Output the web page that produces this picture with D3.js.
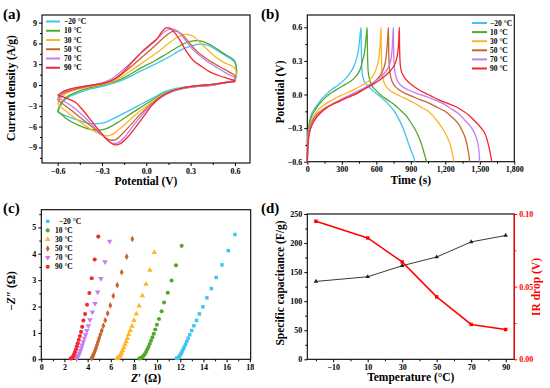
<!DOCTYPE html>
<html><head><meta charset="utf-8">
<script src="https://cdn.jsdelivr.net/npm/d3@7"></script>
<style>
body{margin:0;background:#fff}
svg{display:block}
text{font-family:"Liberation Serif","Times New Roman",serif;font-weight:bold}
</style>
</head><body>
<svg id="chart" width="550" height="388"></svg>
<script>
// ---------- shared ----------
const tempLabels = ["\u221220 \u00B0C","10 \u00B0C","30 \u00B0C","50 \u00B0C","70 \u00B0C","90 \u00B0C"];
const seriesColors = ["#3ec3f3","#52a82c","#fdb525","#c9642a","#c47cf0","#f3282d"];

// ---------- (a) CV loops [V, current density A/g] ----------
const cvM20 = [[-0.6,-3.9],[-0.57,-2.6],[-0.53,-1.8],[-0.48,-1.3],[-0.4,-0.7],[-0.3,-0.2],[-0.2,0.4],[-0.12,1.1],[-0.05,1.9],[0.05,2.9],[0.15,4.0],[0.22,4.9],[0.3,5.6],[0.36,5.9],[0.42,5.7],[0.48,5.0],[0.54,4.2],[0.6,3.2],
  [0.6,0.7],[0.52,0.3],[0.4,0.0],[0.3,-0.2],[0.2,-0.5],[0.12,-1.0],[0.05,-1.8],[-0.03,-2.7],[-0.1,-3.5],[-0.2,-4.6],[-0.28,-5.4],[-0.34,-5.6],[-0.4,-5.5],[-0.47,-5.0],[-0.54,-4.5],[-0.6,-3.9]];
const cv10 = [[-0.6,-3.7],[-0.57,-2.4],[-0.53,-1.6],[-0.47,-1.0],[-0.4,-0.5],[-0.3,0.0],[-0.2,0.6],[-0.12,1.4],[-0.05,2.3],[0.05,3.4],[0.13,4.4],[0.2,5.3],[0.27,6.1],[0.33,6.4],[0.38,6.3],[0.45,5.6],[0.52,4.6],[0.6,3.4],
  [0.6,0.9],[0.55,0.4],[0.45,0.1],[0.35,-0.1],[0.25,-0.4],[0.17,-0.8],[0.1,-1.4],[0.03,-2.3],[-0.05,-3.4],[-0.13,-4.5],[-0.2,-5.5],[-0.27,-6.3],[-0.32,-6.5],[-0.38,-6.4],[-0.45,-5.9],[-0.53,-5.0],[-0.6,-3.7]];
const cv30 = [[-0.6,-2.8],[-0.58,-1.9],[-0.54,-1.2],[-0.48,-0.7],[-0.4,-0.3],[-0.3,0.1],[-0.22,0.6],[-0.15,1.4],[-0.08,2.4],[0.0,3.6],[0.08,4.8],[0.15,6.0],[0.22,7.0],[0.27,7.3],[0.32,7.0],[0.38,5.8],[0.45,4.4],[0.52,3.3],[0.6,2.4],
  [0.6,0.8],[0.55,0.4],[0.45,0.0],[0.35,-0.2],[0.25,-0.5],[0.17,-0.9],[0.1,-1.6],[0.03,-2.6],[-0.05,-3.9],[-0.12,-5.2],[-0.19,-6.5],[-0.25,-7.3],[-0.3,-7.2],[-0.36,-6.6],[-0.43,-5.6],[-0.5,-4.5],[-0.56,-3.5],[-0.6,-2.8]];
const cv50 = [[-0.6,-2.2],[-0.58,-1.5],[-0.54,-1.0],[-0.48,-0.6],[-0.4,-0.2],[-0.3,0.2],[-0.23,0.7],[-0.17,1.5],[-0.1,2.7],[-0.03,4.0],[0.04,5.3],[0.1,6.5],[0.15,7.4],[0.19,7.8],[0.23,7.5],[0.28,6.4],[0.34,4.9],[0.42,3.6],[0.5,2.6],[0.56,1.9],[0.6,1.3],
  [0.6,0.7],[0.55,0.4],[0.45,0.0],[0.35,-0.2],[0.25,-0.5],[0.17,-1.0],[0.1,-1.7],[0.03,-2.8],[-0.04,-4.2],[-0.1,-5.6],[-0.16,-7.0],[-0.21,-7.9],[-0.25,-7.9],[-0.3,-7.2],[-0.37,-6.0],[-0.44,-4.8],[-0.51,-3.6],[-0.56,-2.8],[-0.6,-2.2]];
const cv70 = [[-0.6,-1.9],[-0.58,-1.3],[-0.54,-0.8],[-0.48,-0.4],[-0.4,-0.1],[-0.32,0.2],[-0.25,0.7],[-0.19,1.6],[-0.12,2.9],[-0.05,4.3],[0.02,5.6],[0.08,6.8],[0.13,7.8],[0.17,8.1],[0.21,7.8],[0.26,6.6],[0.32,5.0],[0.4,3.6],[0.48,2.5],[0.55,1.6],[0.6,1.0],
  [0.6,0.6],[0.55,0.4],[0.45,0.0],[0.35,-0.2],[0.25,-0.5],[0.17,-1.0],[0.1,-1.8],[0.03,-3.0],[-0.04,-4.6],[-0.1,-6.2],[-0.15,-7.6],[-0.2,-8.4],[-0.24,-8.3],[-0.29,-7.4],[-0.36,-5.9],[-0.43,-4.4],[-0.5,-3.1],[-0.56,-2.3],[-0.6,-1.9]];
const cv90 = [[-0.6,-1.5],[-0.57,-1.0],[-0.52,-0.6],[-0.45,-0.3],[-0.36,0.0],[-0.28,0.3],[-0.22,0.8],[-0.17,1.6],[-0.12,2.7],[-0.07,3.9],[-0.02,5.0],[0.03,5.9],[0.07,6.6],[0.1,7.5],[0.13,8.2],[0.16,8.2],[0.19,7.6],[0.23,6.4],[0.27,4.9],[0.32,3.5],[0.38,2.6],[0.43,1.9],[0.5,1.3],[0.56,0.9],[0.6,0.6],
  [0.6,0.5],[0.55,0.4],[0.45,0.1],[0.35,-0.1],[0.25,-0.4],[0.17,-0.9],[0.1,-1.7],[0.04,-2.9],[-0.02,-4.6],[-0.08,-6.3],[-0.13,-7.6],[-0.18,-8.5],[-0.22,-8.6],[-0.26,-8.0],[-0.31,-6.8],[-0.37,-5.2],[-0.43,-3.6],[-0.48,-2.5],[-0.54,-1.9],[-0.6,-1.5]];
const cvTicksX = [-0.6,-0.3,0.0,0.3,0.6];
const cvTicksY = [-9,-6,-3,0,3,6,9];

// ---------- (b) GCD curves [time s, potential V] ----------
const gcdM20 = [[0,-0.6],[2,-0.48],[5,-0.38],[9,-0.32],[20,-0.24],[38,-0.17],[67,-0.12],[96,-0.08],[125,-0.04],[154,-0.01],[212,0.045],[270,0.085],[328,0.137],[370,0.19],[400,0.24],[429,0.32],[445,0.4],[456,0.5],[467,0.6],
  [469,0.45],[472,0.3],[476,0.2],[485,0.15],[502,0.105],[530,0.075],[560,0.045],[600,0.01],[647,-0.03],[690,-0.07],[734,-0.12],[770,-0.17],[806,-0.24],[836,-0.31],[864,-0.39],[888,-0.46],[907,-0.51],[922,-0.55],[935,-0.6]];
const gcd10 = [[0,-0.6],[2,-0.49],[5,-0.39],[9,-0.33],[20,-0.25],[40,-0.19],[67,-0.14],[100,-0.09],[154,-0.03],[210,0.015],[270,0.054],[330,0.09],[386,0.125],[430,0.17],[458,0.22],[480,0.3],[496,0.37],[508,0.47],[520,0.6],
  [522,0.45],[525,0.3],[530,0.2],[540,0.14],[560,0.08],[600,0.035],[647,-0.01],[700,-0.05],[755,-0.09],[810,-0.14],[860,-0.19],[900,-0.25],[937,-0.31],[966,-0.37],[995,-0.45],[1015,-0.52],[1038,-0.6]];
const gcd30 = [[0,-0.6],[2,-0.5],[5,-0.41],[10,-0.35],[20,-0.28],[38,-0.23],[70,-0.17],[125,-0.11],[180,-0.07],[241,-0.035],[300,-0.005],[357,0.02],[420,0.05],[473,0.08],[520,0.11],[560,0.15],[585,0.19],[603,0.24],[618,0.3],[630,0.4],[636,0.5],[641,0.6],
  [643,0.45],[646,0.3],[650,0.2],[660,0.13],[680,0.08],[704,0.05],[760,0.01],[820,-0.02],[880,-0.05],[937,-0.08],[1000,-0.12],[1053,-0.15],[1100,-0.2],[1139,-0.25],[1180,-0.31],[1212,-0.37],[1240,-0.44],[1258,-0.51],[1276,-0.6]];
const gcd50 = [[0,-0.6],[2,-0.52],[5,-0.43],[10,-0.37],[20,-0.3],[38,-0.25],[80,-0.18],[154,-0.12],[210,-0.09],[270,-0.06],[340,-0.03],[415,0.0],[480,0.04],[531,0.075],[580,0.11],[618,0.15],[645,0.19],[667,0.24],[682,0.31],[692,0.4],[699,0.5],[705,0.6],
  [707,0.45],[710,0.32],[715,0.22],[725,0.16],[740,0.11],[765,0.07],[800,0.04],[850,0.01],[908,-0.015],[980,-0.045],[1053,-0.075],[1120,-0.11],[1197,-0.15],[1256,-0.2],[1313,-0.26],[1350,-0.33],[1375,-0.39],[1393,-0.47],[1405,-0.54],[1412,-0.6]];
const gcd70 = [[0,-0.6],[2,-0.53],[5,-0.44],[10,-0.38],[20,-0.32],[40,-0.26],[80,-0.2],[154,-0.13],[241,-0.07],[320,-0.03],[400,0.01],[480,0.05],[560,0.1],[620,0.14],[670,0.19],[705,0.24],[725,0.3],[737,0.4],[743,0.5],[748,0.6],
  [750,0.45],[753,0.32],[758,0.23],[768,0.17],[785,0.12],[820,0.075],[879,0.04],[950,0.01],[1024,-0.015],[1100,-0.045],[1169,-0.075],[1255,-0.13],[1314,-0.17],[1371,-0.23],[1430,-0.3],[1460,-0.36],[1480,-0.42],[1492,-0.5],[1499,-0.6]];
const gcd90 = [[0,-0.6],[2,-0.54],[5,-0.46],[10,-0.4],[20,-0.34],[38,-0.28],[70,-0.22],[110,-0.17],[180,-0.11],[260,-0.07],[340,-0.03],[430,0.01],[500,0.05],[570,0.09],[630,0.13],[680,0.17],[720,0.21],[750,0.25],[772,0.3],[786,0.37],[794,0.46],[800,0.6],
  [802,0.45],[805,0.33],[810,0.25],[820,0.2],[840,0.16],[870,0.12],[910,0.085],[966,0.045],[1050,0.0],[1140,-0.045],[1210,-0.075],[1284,-0.105],[1350,-0.145],[1400,-0.18],[1450,-0.23],[1487,-0.27],[1520,-0.31],[1545,-0.35],[1562,-0.4],[1575,-0.45],[1588,-0.51],[1597,-0.56],[1604,-0.6]];
const gcdTicksX = [0,300,600,900,1200,1500,1800];
const gcdTicksY = [-0.6,-0.3,0.0,0.3,0.6];

// ---------- (c) Nyquist points [Z' ohm, -Z'' ohm] ----------
const eisM20 = [[16.72,4.73],[16.15,4.12],[15.6,3.58],[15.1,3.1],[14.68,2.68],[14.3,2.33],[13.95,1.99],[13.65,1.72],[13.4,1.47],[13.17,1.27],[12.98,1.09],[12.82,0.93],[12.68,0.8],[12.56,0.68],[12.45,0.57],[12.35,0.47],[12.25,0.38],[12.16,0.3],[12.08,0.23],[12.0,0.17],[11.93,0.12],[11.86,0.08],[11.8,0.05],[11.74,0.04],[11.68,0.04]];
const eis10 = [[12.12,4.3],[11.63,3.56],[11.25,2.99],[10.92,2.52],[10.6,2.15],[10.39,1.82],[10.16,1.53],[9.98,1.31],[9.84,1.13],[9.71,0.97],[9.59,0.83],[9.47,0.7],[9.36,0.58],[9.25,0.47],[9.14,0.37],[9.04,0.28],[8.94,0.2],[8.84,0.14],[8.74,0.09],[8.64,0.06],[8.55,0.04],[8.46,0.03]];
const eis30 = [[9.76,4.05],[9.38,3.38],[9.04,2.85],[8.72,2.41],[8.44,2.02],[8.2,1.72],[8.0,1.47],[7.83,1.26],[7.68,1.09],[7.55,0.94],[7.44,0.8],[7.33,0.67],[7.22,0.55],[7.12,0.44],[7.02,0.34],[6.93,0.25],[6.84,0.17],[6.75,0.11],[6.67,0.07],[6.6,0.04],[6.53,0.03]];
const eis50 = [[7.86,4.56],[7.37,3.89],[6.94,3.3],[6.56,2.81],[6.22,2.4],[5.96,2.04],[5.73,1.74],[5.52,1.48],[5.36,1.27],[5.22,1.09],[5.1,0.94],[5.0,0.8],[4.9,0.67],[4.81,0.55],[4.73,0.44],[4.65,0.34],[4.57,0.25],[4.5,0.17],[4.44,0.11],[4.38,0.07],[4.33,0.04]];
const eis70 = [[5.9,4.47],[5.5,3.69],[5.15,3.06],[4.87,2.55],[4.64,2.11],[4.41,1.79],[4.2,1.5],[4.06,1.27],[3.93,1.09],[3.82,0.93],[3.72,0.79],[3.62,0.66],[3.53,0.54],[3.45,0.43],[3.37,0.33],[3.29,0.24],[3.22,0.16],[3.15,0.1],[3.09,0.06],[3.03,0.04]];
const eis90 = [[4.92,4.65],[4.61,3.78],[4.35,3.07],[4.15,2.51],[3.95,2.07],[3.78,1.72],[3.63,1.47],[3.53,1.23],[3.43,1.04],[3.33,0.88],[3.24,0.74],[3.15,0.61],[3.07,0.49],[2.99,0.38],[2.91,0.28],[2.83,0.19],[2.76,0.12],[2.68,0.07],[2.61,0.04],[2.55,0.03]];
const eisTicksX = [0,2,4,6,8,10,12,14,16,18];
const eisTicksY = [0,1,2,3,4,5];

// ---------- (d) capacitance and IR drop ----------
const temperatures = [-20,10,30,50,70,90];
const capacitance = [134,142,161,176,202,213];
const irDrop = [0.095,0.0835,0.067,0.043,0.024,0.0205];
const tempTicks = [-10,10,30,50,70,90];
const capTicks = [0,50,100,150,200,250];
const irTicks = [0.00,0.05,0.10];

// ====================================================
const svg = d3.select("#chart");
const FS_TICK = 8, FS_TITLE = 11.5, FS_LEG = 7.5;

function midpoints(t){ const r=[]; for(let i=0;i<t.length-1;i++) r.push((t[i]+t[i+1])/2); return r; }

function styleAxis(g, color){
  g.select(".domain").remove();
  g.selectAll("line").attr("stroke", color||"#000").attr("stroke-width",1);
  g.selectAll("text").attr("font-size",FS_TICK).attr("font-family","Liberation Serif, serif")
   .attr("font-weight","bold").attr("fill", color||"#000");
}

function panel(o){
  const x = d3.scaleLinear().domain(o.xd).range([o.left,o.right]);
  const y = d3.scaleLinear().domain(o.yd).range([o.bottom,o.top]);
  const g = svg.append("g");
  const xa = g.append("g").attr("transform",`translate(0,${o.bottom})`)
    .call(d3.axisBottom(x).tickValues(o.xt).tickFormat(o.xf).tickSize(3).tickPadding(2));
  styleAxis(xa);
  const xm = g.append("g").attr("transform",`translate(0,${o.bottom})`)
    .call(d3.axisBottom(x).tickValues(o.xminor).tickFormat("").tickSize(2));
  styleAxis(xm);
  const ya = g.append("g").attr("transform",`translate(${o.left},0)`)
    .call(d3.axisLeft(y).tickValues(o.yt).tickFormat(o.yf).tickSize(3).tickPadding(2));
  styleAxis(ya);
  const ym = g.append("g").attr("transform",`translate(${o.left},0)`)
    .call(d3.axisLeft(y).tickValues(o.yminor).tickFormat("").tickSize(2));
  styleAxis(ym);
  g.append("rect").attr("x",o.left).attr("y",o.top).attr("width",o.right-o.left).attr("height",o.bottom-o.top)
    .attr("fill","none").attr("stroke","#000").attr("stroke-width",1.1);
  // titles
  g.append("text").attr("x",(o.left+o.right)/2).attr("y",o.bottom+22).attr("text-anchor","middle")
    .attr("font-size",FS_TITLE).text(o.xlabel);
  if(o.ylabel){
    g.append("text").attr("transform",`translate(${o.ylx},${o.lyc}) rotate(-90)`).attr("text-anchor","middle")
      .attr("font-size",FS_TITLE).text(o.ylabel);
  }
  g.append("text").attr("x",o.tagx).attr("y",o.tagy).attr("font-size",15).text(o.tag);
  return {x,y,g};
}

// ---------- (a) ----------
{
  const p = panel({left:42,right:250,top:15,bottom:163,xd:[-0.706,0.702],yd:[-11.25,10.1],
    xt:cvTicksX,xminor:[-0.45,-0.15,0.15,0.45],yt:cvTicksY,yminor:[-10.5,-7.5,-4.5,-1.5,1.5,4.5,7.5],
    xf:d3.format(".1f"),yf:d3.format("d"),xlabel:"Potential (V)",ylabel:"Current density (A/g)",ylx:15,lyc:88,
    tag:"(a)",tagx:3,tagy:19});
  const curves=[cvM20,cv10,cv30,cv50,cv70,cv90];
  const line=d3.line().x(d=>p.x(d[0])).y(d=>p.y(d[1])).curve(d3.curveCatmullRom.alpha(0.5));
  curves.forEach((c,i)=>p.g.append("path").attr("d",line(c)).attr("fill","none").attr("stroke",seriesColors[i]).attr("stroke-width",1.3));
  const leg=p.g.append("g");
  tempLabels.forEach((t,i)=>{
    const yy=21.5+i*9.25;
    leg.append("line").attr("x1",46).attr("x2",60).attr("y1",yy).attr("y2",yy).attr("stroke",seriesColors[i]).attr("stroke-width",2);
    leg.append("text").attr("x",64).attr("y",yy+2.6).attr("font-size",FS_LEG).text(t);
  });
}

// ---------- (b) ----------
{
  const p = panel({left:307.3,right:514.3,top:15,bottom:161.7,xd:[0,1800],yd:[-0.6,0.71],
    xt:gcdTicksX,xminor:midpoints(gcdTicksX),yt:gcdTicksY,yminor:[-0.45,-0.15,0.15,0.45],
    xf:d3.format(","),yf:d3.format(".1f"),xlabel:"Time (s)",ylabel:"Potential (V)",ylx:284,lyc:92,
    tag:"(b)",tagx:261,tagy:19});
  const curves=[gcdM20,gcd10,gcd30,gcd50,gcd70,gcd90];
  const line=d3.line().x(d=>p.x(d[0])).y(d=>p.y(d[1])).curve(d3.curveMonotoneY);
  const line2=d3.line().x(d=>p.x(d[0])).y(d=>p.y(d[1])).curve(d3.curveCatmullRom.alpha(0.5));
  curves.forEach((c,i)=>p.g.append("path").attr("d",line2(c)).attr("fill","none").attr("stroke",seriesColors[i]).attr("stroke-width",1.3));
  const leg=p.g.append("g");
  tempLabels.forEach((t,i)=>{
    const yy=23+i*9.1;
    leg.append("line").attr("x1",472).attr("x2",487).attr("y1",yy).attr("y2",yy).attr("stroke",seriesColors[i]).attr("stroke-width",2);
    leg.append("text").attr("x",490).attr("y",yy+2.6).attr("font-size",FS_LEG).text(t);
  });
}

// ---------- (c) ----------
{
  const p = panel({left:41.3,right:250.7,top:209.7,bottom:359.3,xd:[0,18.08],yd:[0,5.67],
    xt:eisTicksX,xminor:midpoints(eisTicksX),yt:eisTicksY,yminor:[0.5,1.5,2.5,3.5,4.5,5.5],
    xf:d3.format("d"),yf:d3.format("d"),xlabel:"",ylabel:null,ylx:15,lyc:290,
    tag:"(c)",tagx:3,tagy:213});
  // axis titles with italic Z
  const xt=p.g.append("text").attr("x",146).attr("y",381.5).attr("text-anchor","middle").attr("font-size",FS_TITLE);
  xt.append("tspan").attr("font-style","italic").text("Z");
  xt.append("tspan").text("\u2032 (\u03A9)");
  const yt=p.g.append("text").attr("transform","translate(15,291) rotate(-90)").attr("text-anchor","middle").attr("font-size",FS_TITLE);
  yt.append("tspan").text("\u2212");
  yt.append("tspan").attr("font-style","italic").text("Z");
  yt.append("tspan").text("\u2033 (\u03A9)");
  const sets=[eisM20,eis10,eis30,eis50,eis70,eis90];
  const shapes=[d3.symbolSquare,d3.symbolCircle,d3.symbolTriangle,d3.symbolDiamond,d3.symbolTriangle,d3.symbolCircle];
  const sizes=[12,13,13,13,13,13];
  const rot=[0,0,0,0,180,0];
  sets.forEach((s,i)=>{
    p.g.append("g").selectAll("path").data(s).join("path")
      .attr("transform",d=>`translate(${p.x(d[0])},${p.y(d[1])}) rotate(${rot[i]})`)
      .attr("d",d3.symbol().type(shapes[i]).size(sizes[i])).attr("fill",seriesColors[i]);
  });
  const leg=p.g.append("g");
  tempLabels.forEach((t,i)=>{
    const yy=221.3+i*9.1;
    leg.append("path").attr("transform",`translate(47.7,${yy}) rotate(${rot[i]})`).attr("d",d3.symbol().type(shapes[i]).size(sizes[i])).attr("fill",seriesColors[i]);
    leg.append("text").attr("x",i===0?59:55).attr("y",yy+2.6).attr("font-size",FS_LEG).text(t);
  });
}

// ---------- (d) ----------
{
  const p = panel({left:307.3,right:514.3,top:214,bottom:359.3,xd:[-25,95],yd:[0,250],
    xt:tempTicks,xminor:[-20,0,20,40,60,80],yt:capTicks,yminor:midpoints(capTicks),
    xf:d3.format("d"),yf:d3.format("d"),xlabel:"Temperature (\u00B0C)",ylabel:"Specific capacitance (F/g)",ylx:284,lyc:283,
    tag:"(d)",tagx:261,tagy:213});
  const yR=d3.scaleLinear().domain([0,0.1]).range([359.3,214]);
  const ra=p.g.append("g").attr("transform","translate(514.3,0)")
    .call(d3.axisRight(yR).tickValues(irTicks).tickFormat(d3.format(".2f")).tickSize(3).tickPadding(2));
  styleAxis(ra,"#ff0000");
  const rm=p.g.append("g").attr("transform","translate(514.3,0)")
    .call(d3.axisRight(yR).tickValues([0.025,0.075]).tickFormat("").tickSize(2));
  styleAxis(rm,"#ff0000");
  p.g.append("line").attr("x1",514.3).attr("x2",514.3).attr("y1",214).attr("y2",359.3).attr("stroke","#ff0000").attr("stroke-width",1.3);
  p.g.append("text").attr("transform","translate(540,287) rotate(-90)").attr("text-anchor","middle")
    .attr("font-size",FS_TITLE).attr("fill","#ff0000").text("IR drop (V)");
  const capData=temperatures.map((t,i)=>[t,capacitance[i]]);
  const irData=temperatures.map((t,i)=>[t,irDrop[i]]);
  p.g.append("path").attr("d",d3.line().x(d=>p.x(d[0])).y(d=>p.y(d[1]))(capData)).attr("fill","none").attr("stroke","#222").attr("stroke-width",0.9);
  p.g.append("g").selectAll("path").data(capData).join("path")
    .attr("transform",d=>`translate(${p.x(d[0])},${p.y(d[1])})`).attr("d",d3.symbol().type(d3.symbolTriangle).size(9)).attr("fill","#222");
  p.g.append("path").attr("d",d3.line().x(d=>p.x(d[0])).y(d=>yR(d[1]))(irData)).attr("fill","none").attr("stroke","#ff0000").attr("stroke-width",1.5);
  p.g.append("g").selectAll("path").data(irData).join("path")
    .attr("transform",d=>`translate(${p.x(d[0])},${yR(d[1])})`).attr("d",d3.symbol().type(d3.symbolSquare).size(12)).attr("fill","#ff0000");
}
</script>
</body></html>
